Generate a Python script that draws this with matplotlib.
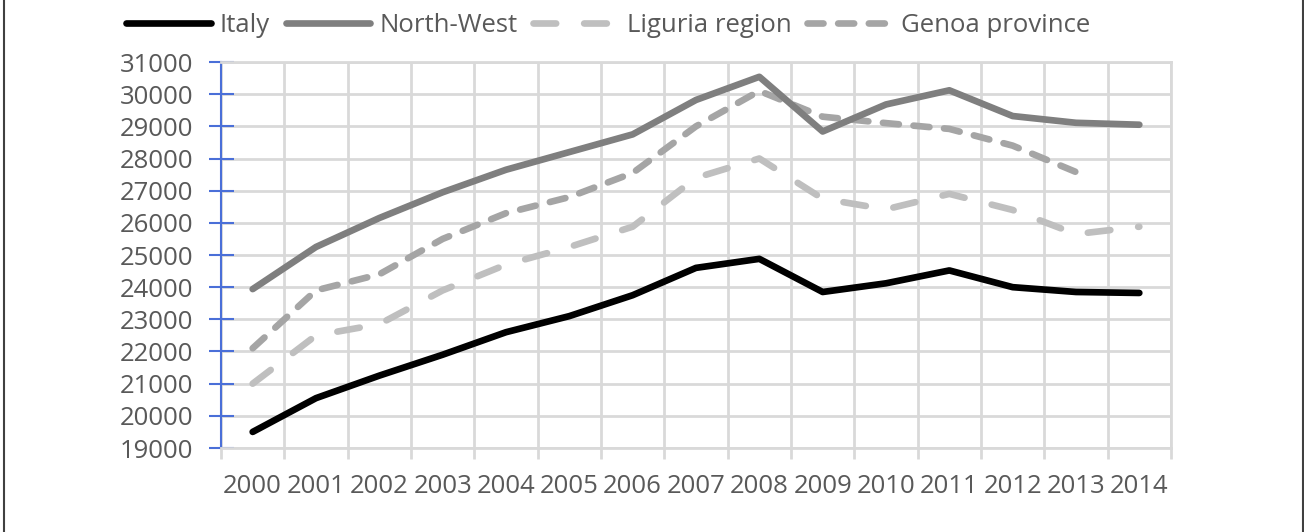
import matplotlib.pyplot as plt
from matplotlib.lines import Line2D
import numpy as np

plt.rcParams["font.family"] = ["Open Sans", "DejaVu Sans"]

years = [str(y) for y in range(2000, 2015)]
italy = [19500, 20550, 21250, 21900, 22600, 23100, 23750, 24600, 24880,
         23850, 24120, 24520, 24000, 23850, 23820]
north_west = [23940, 25250, 26150, 26950, 27650, 28200, 28750, 29820, 30540,
              28840, 29680, 30120, 29320, 29110, 29050]
liguria = [21000, 22500, 22850, 23900, 24700, 25250, 25880, 27400, 28000,
           26750, 26420, 26900, 26400, 25650, 25880]
genoa = [22100, 23900, 24400, 25500, 26300, 26800, 27550, 29000, 30100,
         29300, 29100, 28920, 28400, 27580]

text_col = "#595959"
grid_col = "#d9d9d9"
axis_blue = "#4a6fd8"

fig = plt.figure(figsize=(13.04, 5.32), dpi=100)
ax = fig.add_axes([221 / 1304, 1 - 448 / 532, 950 / 1304, 386 / 532])

x = np.arange(len(years))
lw = 4.8
ax.plot(x, italy, color="black", lw=lw, solid_capstyle="round",
        solid_joinstyle="round", label="Italy", zorder=5)
ax.plot(x, north_west, color="#7f7f7f", lw=lw, solid_capstyle="round",
        solid_joinstyle="round", label="North-West", zorder=4)
ax.plot(x, liguria, color="#bfbfbf", lw=lw, dashes=(3.4, 4.2),
        dash_capstyle="round", label="Liguria region", zorder=3)
ax.plot(x[:len(genoa)], genoa, color="#a5a5a5", lw=lw, dashes=(2.4, 2.2),
        dash_capstyle="round", label="Genoa province", zorder=3)

ax.set_xlim(-0.5, len(years) - 0.5)
ax.set_ylim(19000, 31000)

ax.set_xticks(x)
ax.set_xticklabels(years)
ax.set_xticks(np.arange(-0.5, len(years)), minor=True)
ax.tick_params(axis="x", which="major", length=0, pad=19, labelsize=18.5,
               labelcolor=text_col)
ax.tick_params(axis="x", which="minor", length=8, width=2, color=grid_col,
               direction="out")
ax.set_yticks(range(19000, 31001, 1000))
ax.tick_params(axis="y", length=18, width=1.5, color=axis_blue,
               direction="inout", pad=11, labelsize=18.5, labelcolor=text_col)

ax.grid(True, which="minor", axis="x", color=grid_col, lw=2)
ax.grid(True, which="major", axis="y", color=grid_col, lw=2)
ax.set_axisbelow(True)

for side in ["top", "right", "bottom"]:
    ax.spines[side].set_color(grid_col)
    ax.spines[side].set_linewidth(2)
ax.spines["left"].set_color(axis_blue)
ax.spines["left"].set_linewidth(1.5)

leg = fig.legend(loc="center", bbox_to_anchor=(608 / 1304, 1 - 25 / 532),
                 ncol=4, frameon=False, fontsize=18.5, handlelength=3.3,
                 handletextpad=0.35, columnspacing=0.6, labelcolor=text_col)

# frame lines left and right
fig.add_artist(Line2D([3.5 / 1304, 3.5 / 1304], [0, 1], color="#404040", lw=1.5))
fig.add_artist(Line2D([1302.5 / 1304, 1302.5 / 1304], [0, 1], color="#404040", lw=1.5))

fig.savefig("out.png", dpi=100)
